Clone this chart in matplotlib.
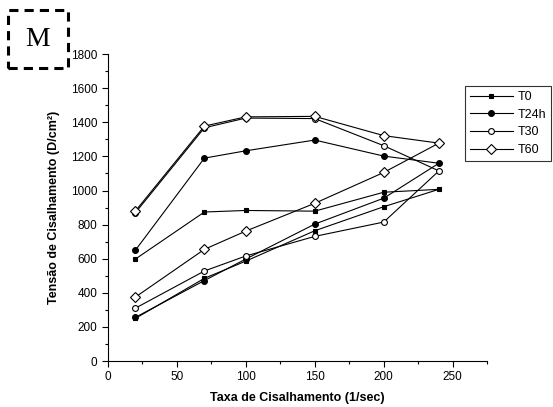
import matplotlib.pyplot as plt
from matplotlib.patches import Rectangle

plt.rcParams['font.family'] = ['Liberation Sans', 'DejaVu Sans']

# Shear rates (1/sec) and shear stress (D/cm2) for each storage time,
# ramp up and ramp down measured at the same shear rates
shear_rate = [20, 70, 100, 150, 200, 240]

t0_up = [250, 485, 586, 764, 905, 1007]
t0_down = [598, 874, 883, 879, 990, 1007]
t24h_up = [256, 472, 598, 803, 955, 1160]
t24h_down = [650, 1190, 1233, 1296, 1202, 1160]
t30_up = [310, 528, 616, 731, 815, 1115]
t30_down = [870, 1368, 1425, 1422, 1263, 1115]
t60_up = [375, 655, 762, 925, 1106, 1278]
t60_down = [880, 1378, 1432, 1435, 1322, 1278]

labels = ['T0', 'T24h', 'T30', 'T60']
ups = [t0_up, t24h_up, t30_up, t60_up]
downs = [t0_down, t24h_down, t30_down, t60_down]
markers = ['s', 'o', 'o', 'D']
facecolors = ['black', 'black', 'white', 'white']
msizes = [3.4, 4.2, 4.2, 5.0]

fig = plt.figure(figsize=(5.53, 4.07), dpi=100)
ax = fig.add_axes([0.195, 0.113, 0.686, 0.754])

for lab, up, down, m, fc, ms in zip(labels, ups, downs, markers, facecolors, msizes):
    # one continuous curve: up the ramp then back down
    xs = shear_rate + shear_rate[::-1][1:]
    ys = up + down[::-1][1:]
    ax.plot(xs, ys, color='black', lw=0.8, marker=m, ms=ms,
            mfc=fc, mec='black', mew=0.8, label=lab)

ax.set_xlim(0, 275)
ax.set_ylim(0, 1800)
ax.set_xticks(range(0, 251, 50))
ax.set_xticks(range(25, 276, 50), minor=True)
ax.set_yticks(range(0, 1801, 200))
ax.set_yticks(range(100, 1800, 200), minor=True)
ax.tick_params(which='major', direction='out', length=4, width=0.8, labelsize=8.5)
ax.tick_params(which='minor', direction='out', length=2.5, width=0.8)
ax.spines['top'].set_visible(False)
ax.spines['right'].set_visible(False)

ax.set_xlabel('Taxa de Cisalhamento (1/sec)', fontsize=9, fontweight='bold', labelpad=6)
ax.set_ylabel('Tensão de Cisalhamento (D/cm²)', fontsize=9, fontweight='bold', labelpad=8)

leg = fig.legend(loc='upper left', bbox_to_anchor=(465 / 553, 1 - 86 / 407),
                 fontsize=9, frameon=True, fancybox=False, edgecolor='black',
                 handlelength=3.4, handletextpad=0.4, labelspacing=0.45,
                 borderpad=0.4, borderaxespad=0)
leg.get_frame().set_linewidth(0.8)

# panel letter in a dashed box
fig.patches.append(Rectangle((8 / 553, 1 - 68 / 407), 60 / 553, 58 / 407,
                             transform=fig.transFigure, fill=False,
                             edgecolor='black', lw=2.2, ls=(0, (3, 2))))
fig.text(38 / 553, 1 - 40 / 407, 'M', fontsize=20, family='Liberation Serif',
         ha='center', va='center')

fig.savefig('out.png', dpi=100)
